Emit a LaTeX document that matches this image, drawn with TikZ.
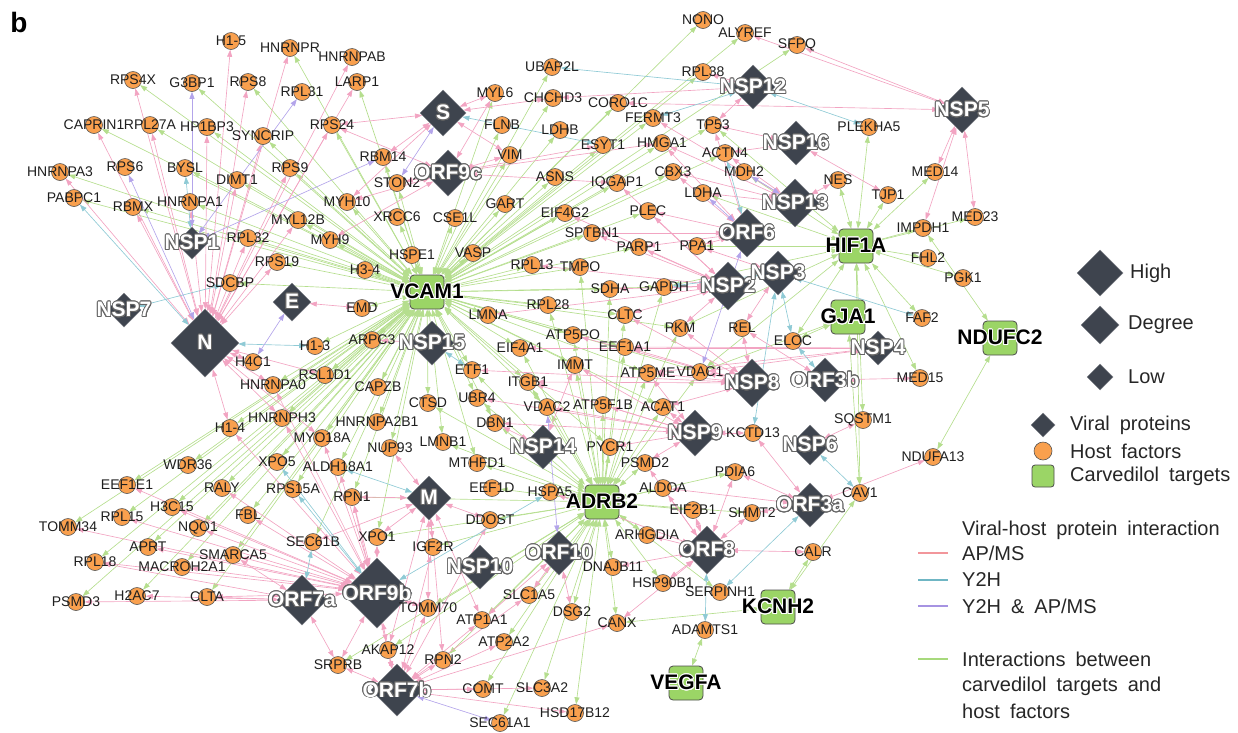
\documentclass[tikz,border=0pt]{standalone}
\usepackage{fontspec}
\setmainfont{Liberation Sans}
\newfontfamily\legfam[WordSpace=1.8]{Liberation Sans}
\usepackage{contour}
\contourlength{0.9pt}
\contournumber{20}
\usetikzlibrary{shapes.geometric,arrows.meta}
\pgfdeclarelayer{bg}\pgfdeclarelayer{fg}
\pgfsetlayers{bg,main,fg}
\definecolor{hostorange}{HTML}{F9A04E}
\definecolor{viral}{HTML}{3E444E}
\definecolor{tgt}{HTML}{9BD566}
\definecolor{apms}{HTML}{F2A4C2}
\definecolor{yth}{HTML}{8FCAD5}
\definecolor{both}{HTML}{B3A4EA}
\definecolor{gline}{HTML}{B5DE8E}
\definecolor{lapms}{HTML}{F2969B}
\definecolor{lyth}{HTML}{6FB6C4}
\definecolor{lboth}{HTML}{A693E2}
\definecolor{lgreen}{HTML}{A7D97C}
\newcommand\legendfont{\legfam\fontsize{20}{22}\selectfont}
\tikzset{
 hostc/.style={circle,fill=hostorange,draw=gray!65!black,line width=0.6pt,minimum size=17pt,inner sep=0pt},
 hostl/.style={font=\fontsize{14}{14}\selectfont,inner sep=0pt,text=black!88},
 vir/.style={diamond,fill=viral,draw=viral!70!white,line width=0.5pt,inner sep=0pt,aspect=1},
 virl/.style={font=\fontsize{21}{21}\selectfont\bfseries,text=white,inner sep=0pt},
 tg/.style={rectangle,rounded corners=4pt,fill=tgt,draw=gray!60!black,line width=0.8pt,minimum size=34pt,inner sep=0pt},
 tgl/.style={font=\fontsize{21}{21}\selectfont\bfseries,inner sep=0pt,text=black},
 ge/.style={draw=gline,line width=0.65pt,{Triangle[length=7pt,width=5pt]}-{Triangle[length=7pt,width=5pt]}},
 pe/.style={draw=apms,line width=0.65pt,{Triangle[length=7pt,width=5pt]}-{Triangle[length=7pt,width=5pt]}},
 te/.style={draw=yth,line width=0.65pt,{Triangle[length=7pt,width=5pt]}-{Triangle[length=7pt,width=5pt]}},
 be/.style={draw=both,line width=0.65pt,{Triangle[length=7pt,width=5pt]}-{Triangle[length=7pt,width=5pt]}},
 legtxt/.style={font=\legendfont,anchor=west,inner sep=0pt,text=black!85},
}
\newcommand\hostf[4]{\node[hostc] (#1) at (#2,#3) {};\begin{pgfonlayer}{fg}\node[hostl] (#1l) at (#2,#3) {#4};\end{pgfonlayer}}
\newcommand\virp[5]{\node[vir,minimum size=#4*2pt] (#1) at (#2,#3) {};\begin{pgfonlayer}{fg}\node[virl] (#1l) at (#2,#3) {\contour{gray!80!black}{#5}};\end{pgfonlayer}}
\newcommand\carv[4]{\node[tg] (#1) at (#2,#3) {};\begin{pgfonlayer}{fg}\node[tgl] (#1l) at (#2,#3) {\contour{white}{#4}};\end{pgfonlayer}}
\newcommand\drawedges[3]{\foreach \t in {#3} {\draw[#1] (#2) -- (\t);}}
\begin{document}
\begin{tikzpicture}[x=1pt,y=-1pt]
\useasboundingbox (0,0) rectangle (1238,732);
\node[font=\fontsize{28}{28}\selectfont\bfseries,inner sep=0pt] (blabel) at (19,22) {b};
% host factors
\hostf{H1x5}{231}{41}{H1-5}
\hostf{HNRNPR}{290}{48}{HNRNPR}
\hostf{HNRNPAB}{352}{57}{HNRNPAB}
\hostf{RPS4X}{133}{80}{RPS4X}
\hostf{G3BP1}{192}{83}{G3BP1}
\hostf{RPS8}{248}{82}{RPS8}
\hostf{RPL31}{302}{92}{RPL31}
\hostf{LARP1}{357}{82}{LARP1}
\hostf{CAPRIN1}{94}{125}{CAPRIN1}
\hostf{RPL27A}{150}{125}{RPL27A}
\hostf{HP1BP3}{207}{127}{HP1BP3}
\hostf{SYNCRIP}{263}{136}{SYNCRIP}
\hostf{RPS24}{332}{125}{RPS24}
\hostf{HNRNPA3}{60}{172}{HNRNPA3}
\hostf{RPS6}{125}{167}{RPS6}
\hostf{BYSL}{185}{168}{BYSL}
\hostf{DIMT1}{237}{180}{DIMT1}
\hostf{RPS9}{290}{168}{RPS9}
\hostf{PABPC1}{74}{198}{PABPC1}
\hostf{RBMX}{133}{207}{RBMX}
\hostf{HNRNPA1}{190}{202}{HNRNPA1}
\hostf{MYL12B}{298}{220}{MYL12B}
\hostf{MYH10}{347}{202}{MYH10}
\hostf{MYH9}{330}{240}{MYH9}
\hostf{RPL32}{248}{238}{RPL32}
\hostf{RPS19}{277}{262}{RPS19}
\hostf{SDCBP}{230}{283}{SDCBP}
\hostf{RBM14}{383}{157}{RBM14}
\hostf{STON2}{397}{183}{STON2}
\hostf{XRCC6}{397}{217}{XRCC6}
\hostf{MYL6}{495}{93}{MYL6}
\hostf{UBAP2L}{552}{67}{UBAP2L}
\hostf{CHCHD3}{553}{98}{CHCHD3}
\hostf{CORO1C}{618}{103}{CORO1C}
\hostf{FLNB}{502}{125}{FLNB}
\hostf{LDHB}{560}{130}{LDHB}
\hostf{FERMT3}{653}{118}{FERMT3}
\hostf{VIM}{510}{155}{VIM}
\hostf{ESYT1}{603}{145}{ESYT1}
\hostf{HMGA1}{662}{143}{HMGA1}
\hostf{ASNS}{555}{177}{ASNS}
\hostf{IQGAP1}{617}{183}{IQGAP1}
\hostf{CBX3}{673}{172}{CBX3}
\hostf{GART}{505}{204}{GART}
\hostf{CSE1L}{455}{218}{CSE1L}
\hostf{EIF4G2}{565}{213}{EIF4G2}
\hostf{PLEC}{648}{211}{PLEC}
\hostf{SPTBN1}{592}{233}{SPTBN1}
\hostf{PARP1}{639}{247}{PARP1}
\hostf{PPA1}{697}{246}{PPA1}
\hostf{NONO}{703}{20}{NONO}
\hostf{ALYREF}{745}{33}{ALYREF}
\hostf{SFPQ}{797}{45}{SFPQ}
\hostf{RPL38}{703}{72}{RPL38}
\hostf{TP53}{713}{125}{TP53}
\hostf{PLEKHA5}{869}{127}{PLEKHA5}
\hostf{ACTN4}{725}{153}{ACTN4}
\hostf{MDH2}{744}{172}{MDH2}
\hostf{LDHA}{703}{193}{LDHA}
\hostf{NES}{838}{180}{NES}
\hostf{MED14}{935}{172}{MED14}
\hostf{TJP1}{888}{195}{TJP1}
\hostf{IMPDH1}{923}{228}{IMPDH1}
\hostf{MED23}{975}{217}{MED23}
\hostf{FHL2}{928}{258}{FHL2}
\hostf{PGK1}{963}{278}{PGK1}
\hostf{FAF2}{922}{318}{FAF2}
\hostf{MED15}{920}{378}{MED15}
\hostf{SQSTM1}{863}{420}{SQSTM1}
\hostf{NDUFA13}{933}{457}{NDUFA13}
\hostf{CAV1}{860}{493}{CAV1}
\hostf{CALR}{813}{552}{CALR}
\hostf{HSPE1}{412}{255}{HSPE1}
\hostf{VASP}{473}{253}{VASP}
\hostf{RPL13}{532}{265}{RPL13}
\hostf{TMPO}{580}{267}{TMPO}
\hostf{H3x4}{365}{270}{H3-4}
\hostf{EMD}{362}{308}{EMD}
\hostf{SDHA}{610}{289}{SDHA}
\hostf{GAPDH}{664}{287}{GAPDH}
\hostf{LMNA}{488}{315}{LMNA}
\hostf{RPL28}{548}{305}{RPL28}
\hostf{CLTC}{625}{315}{CLTC}
\hostf{PKM}{680}{328}{PKM}
\hostf{REL}{742}{328}{REL}
\hostf{ELOC}{793}{341}{ELOC}
\hostf{ARPC3}{372}{340}{ARPC3}
\hostf{ATP5PO}{573}{335}{ATP5PO}
\hostf{EIF4A1}{520}{348}{EIF4A1}
\hostf{EEF1A1}{625}{347}{EEF1A1}
\hostf{IMMT}{575}{365}{IMMT}
\hostf{VDAC1}{700}{372}{VDAC1}
\hostf{ETF1}{472}{370}{ETF1}
\hostf{ITGB1}{528}{382}{ITGB1}
\hostf{ATP5ME}{648}{373}{ATP5ME}
\hostf{CAPZB}{378}{387}{CAPZB}
\hostf{CTSD}{428}{403}{CTSD}
\hostf{UBR4}{477}{398}{UBR4}
\hostf{VDAC2}{547}{407}{VDAC2}
\hostf{ATP5F1B}{603}{405}{ATP5F1B}
\hostf{ACAT1}{663}{407}{ACAT1}
\hostf{KCTD13}{753}{433}{KCTD13}
\hostf{HNRNPA2B1}{377}{422}{HNRNPA2B1}
\hostf{DBN1}{495}{423}{DBN1}
\hostf{LMNB1}{443}{442}{LMNB1}
\hostf{NUP93}{390}{448}{NUP93}
\hostf{PYCR1}{610}{447}{PYCR1}
\hostf{PSMD2}{645}{463}{PSMD2}
\hostf{MTHFD1}{477}{463}{MTHFD1}
\hostf{ALDH18A1}{338}{467}{ALDH18A1}
\hostf{PDIA6}{735}{472}{PDIA6}
\hostf{H1x3}{315}{346}{H1-3}
\hostf{H4C1}{253}{362}{H4C1}
\hostf{HNRNPA0}{273}{385}{HNRNPA0}
\hostf{RSL1D1}{325}{375}{RSL1D1}
\hostf{HNRNPH3}{282}{418}{HNRNPH3}
\hostf{MYO18A}{322}{438}{MYO18A}
\hostf{H1x4}{230}{428}{H1-4}
\hostf{WDR36}{188}{465}{WDR36}
\hostf{XPO5}{277}{462}{XPO5}
\hostf{EEF1E1}{127}{485}{EEF1E1}
\hostf{RALY}{222}{488}{RALY}
\hostf{RPS15A}{293}{489}{RPS15A}
\hostf{H3C15}{172}{507}{H3C15}
\hostf{FBL}{248}{515}{FBL}
\hostf{RPL15}{122}{517}{RPL15}
\hostf{TOMM34}{68}{527}{TOMM34}
\hostf{NQO1}{198}{528}{NQO1}
\hostf{SEC61B}{313}{542}{SEC61B}
\hostf{APRT}{148}{547}{APRT}
\hostf{SMARCA5}{233}{555}{SMARCA5}
\hostf{RPL18}{95}{562}{RPL18}
\hostf{MACROH2A1}{182}{567}{MACROH2A1}
\hostf{PSMD3}{76}{602}{PSMD3}
\hostf{H2AC7}{137}{596}{H2AC7}
\hostf{CLTA}{207}{597}{CLTA}
\hostf{SRPRB}{338}{665}{SRPRB}
\hostf{RPN1}{352}{497}{RPN1}
\hostf{EEF1D}{492}{488}{EEF1D}
\hostf{HSPA5}{550}{492}{HSPA5}
\hostf{ALDOA}{663}{488}{ALDOA}
\hostf{DDOST}{490}{520}{DDOST}
\hostf{XPO1}{377}{537}{XPO1}
\hostf{IGF2R}{433}{547}{IGF2R}
\hostf{ARHGDIA}{647}{535}{ARHGDIA}
\hostf{DNAJB11}{613}{567}{DNAJB11}
\hostf{HSP90B1}{663}{583}{HSP90B1}
\hostf{SLC1A5}{529}{595}{SLC1A5}
\hostf{TOMM70}{428}{608}{TOMM70}
\hostf{DSG2}{572}{612}{DSG2}
\hostf{ATP1A1}{482}{620}{ATP1A1}
\hostf{CANX}{617}{623}{CANX}
\hostf{ATP2A2}{504}{642}{ATP2A2}
\hostf{AKAP12}{388}{650}{AKAP12}
\hostf{RPN2}{443}{660}{RPN2}
\hostf{COMT}{483}{689}{COMT}
\hostf{SLC3A2}{542}{688}{SLC3A2}
\hostf{HSD17B12}{575}{713}{HSD17B12}
\hostf{SEC61A1}{500}{723}{SEC61A1}
\hostf{EIF2B1}{693}{510}{EIF2B1}
\hostf{SHMT2}{752}{513}{SHMT2}
\hostf{SERPINH1}{720}{592}{SERPINH1}
\hostf{ADAMTS1}{705}{630}{ADAMTS1}
% viral proteins
\virp{N}{205}{343}{34}{N}
\virp{NSP1}{192}{243}{16}{NSP1}
\virp{NSP7}{124}{310}{17}{NSP7}
\virp{E}{292}{302}{19}{E}
\virp{S}{443}{113}{23}{S}
\virp{ORF9c}{448}{173}{23}{ORF9c}
\virp{NSP12}{753}{87}{22}{NSP12}
\virp{NSP5}{962}{110}{23}{NSP5}
\virp{NSP16}{796}{143}{22}{NSP16}
\virp{NSP13}{795}{203}{24}{NSP13}
\virp{ORF6}{747}{233}{24}{ORF6}
\virp{NSP2}{728}{286}{24}{NSP2}
\virp{NSP3}{778}{273}{22}{NSP3}
\virp{NSP4}{878}{348}{17}{NSP4}
\virp{NSP8}{752}{383}{24}{NSP8}
\virp{ORF3b}{825}{380}{22}{ORF3b}
\virp{NSP9}{695}{433}{23}{NSP9}
\virp{NSP6}{810}{445}{20}{NSP6}
\virp{ORF3a}{810}{505}{22}{ORF3a}
\virp{ORF8}{707}{550}{24}{ORF8}
\virp{NSP15}{432}{343}{22}{NSP15}
\virp{NSP14}{543}{447}{22}{NSP14}
\virp{M}{429}{498}{22}{M}
\virp{ORF10}{559}{553}{22}{ORF10}
\virp{NSP10}{480}{567}{22}{NSP10}
\virp{ORF9b}{377}{593}{35}{ORF9b}
\virp{ORF7a}{302}{600}{25}{ORF7a}
\virp{ORF7b}{397}{690}{26}{ORF7b}
% carvedilol targets
\carv{VCAM1}{427}{292}{VCAM1}
\carv{HIF1A}{856}{246}{HIF1A}
\carv{GJA1}{848}{317}{GJA1}
\carv{NDUFC2}{1000}{338}{NDUFC2}
\carv{ADRB2}{602}{502}{ADRB2}
\carv{KCNH2}{778}{607}{KCNH2}
\carv{VEGFA}{686}{683}{VEGFA}
% edges
\begin{pgfonlayer}{bg}
\drawedges{ge}{VCAM1}{HNRNPR,RPS4X,G3BP1,RPS8,LARP1,CAPRIN1,RPL27A,HP1BP3,SYNCRIP,RPS24,HNRNPA3,BYSL,DIMT1,RPS9,PABPC1,RBMX,HNRNPA1,MYL12B,MYH10,MYH9,RPL32,RPS19,SDCBP,RBM14,STON2,XRCC6,MYL6,UBAP2L,CHCHD3,CORO1C,FLNB,LDHB,FERMT3,VIM,ESYT1,HMGA1,ASNS,IQGAP1,CBX3,GART,CSE1L,EIF4G2,PLEC,SPTBN1,PARP1,NONO,ALYREF,SFPQ,RPL38,TP53,ACTN4,HSPE1,VASP,RPL13,TMPO,H3x4,EMD,SDHA,GAPDH,LMNA,RPL28,CLTC,PKM,ARPC3,ATP5PO,EIF4A1,EEF1A1,IMMT,VDAC1,ETF1,ITGB1,ATP5ME,CAPZB,CTSD,UBR4,VDAC2,DBN1,LMNB1,NUP93,HNRNPA2B1,MTHFD1,ALDH18A1,H1x3,RSL1D1,HNRNPA0,HNRNPH3,MYO18A,H1x4,WDR36,XPO5,EEF1E1,RALY,RPS15A,H3C15,FBL,RPL15,TOMM34,NQO1,SEC61B,APRT,SMARCA5,RPL18,MACROH2A1,PSMD3,CLTA,H2AC7,RPN1,XPO1,ACAT1,PYCR1}
\drawedges{ge}{ADRB2}{PSMD2,PYCR1,ATP5F1B,VDAC2,ITGB1,ACAT1,ALDOA,EIF2B1,ARHGDIA,HSP90B1,DNAJB11,CANX,DSG2,SLC1A5,ATP1A1,ATP2A2,SLC3A2,HSD17B12,SEC61A1,COMT,RPN2,AKAP12,TOMM70,IGF2R,DDOST,EEF1D,HSPA5,RPN1,XPO1,MTHFD1,DBN1,IMMT,EEF1A1,ATP5ME,CLTC,PKM,VDAC1,SERPINH1,PDIA6,ATP5PO,EIF4A1,LMNB1,SRPRB,CTSD,UBR4,ETF1,SDHA,GAPDH,TMPO,RPL28,SHMT2}
\drawedges{ge}{HIF1A}{NES,PLEKHA5,TJP1,MED14,IMPDH1,FHL2,PGK1,FAF2,MED15,SQSTM1,ELOC,LDHA,GAPDH,PKM,PPA1,TP53,CAV1,MED23,VDAC1,MDH2}
\drawedges{ge}{GJA1}{VDAC1,CAV1,ELOC}
\drawedges{ge}{KCNH2}{CALR,CAV1,CANX}
\drawedges{ge}{VEGFA}{ADAMTS1}
\drawedges{ge}{NDUFC2}{NDUFA13,IMPDH1}
% AP/MS
\drawedges{pe}{N}{H1x5,HNRNPR,HNRNPAB,RPS4X,RPS8,LARP1,CAPRIN1,RPL27A,HP1BP3,SYNCRIP,RPS24,HNRNPA3,DIMT1,RPS9,RBMX,RPL32,HNRNPA1,MYL12B,RPS19,H4C1,H1x4,HNRNPA0,HNRNPH3,RSL1D1,MYO18A}
\drawedges{pe}{E}{EMD}
\drawedges{pe}{S}{MYL6,RBM14,MYH10,RPS24,CHCHD3,VIM}
\drawedges{pe}{ORF9c}{STON2,MYH10,MYH9,RPS24,VIM,ESYT1,IQGAP1,HMGA1,MYL6}
\drawedges{pe}{NSP12}{RPL38,CHCHD3,TP53}
\drawedges{pe}{NSP5}{ALYREF,SFPQ,MED14,MED23,IMPDH1,CORO1C}
\drawedges{pe}{NSP16}{TP53,TJP1,ACTN4}
\drawedges{pe}{NSP13}{ACTN4,LDHA,CBX3,HMGA1,NES,FERMT3}
\drawedges{pe}{ORF6}{PPA1,PLEC,PARP1,TP53,HMGA1,CBX3,SPTBN1}
\drawedges{pe}{NSP2}{PARP1,SPTBN1,EIF4G2,PLEC,GAPDH,PKM,SDHA,CLTC,IQGAP1,RPL13,LMNA}
\drawedges{pe}{NSP3}{REL,PPA1}
\drawedges{pe}{NSP4}{VDAC1,ATP5ME,EEF1A1,EIF4A1}
\drawedges{pe}{NSP8}{ATP5ME,VDAC1,ACAT1,PKM,EEF1A1,CLTC,ATP5PO,REL,ETF1,ITGB1}
\drawedges{pe}{ORF3b}{MED15,REL}
\drawedges{pe}{NSP9}{ATP5F1B,VDAC2,ACAT1,PYCR1,PSMD2,KCTD13,ATP5ME,IMMT,ITGB1,DBN1,UBR4}
\drawedges{pe}{NSP6}{SQSTM1}
\drawedges{pe}{ORF3a}{NDUFA13,PDIA6,ALDOA,KCTD13,SHMT2}
\drawedges{pe}{ORF8}{HSP90B1,CALR,PDIA6,SHMT2,EIF2B1,ALDOA,ARHGDIA,DNAJB11,CANX,HSPA5,PSMD2}
\drawedges{pe}{ORF10}{DSG2,SLC1A5,ATP1A1}
\drawedges{pe}{NSP14}{DBN1,IMMT}
\drawedges{pe}{NSP15}{ARPC3}
\drawedges{pe}{M}{RPN1,XPO1,IGF2R,DDOST,TOMM70,ATP1A1,RPN2,AKAP12,SEC61B,NUP93}
\drawedges{pe}{ORF9b}{EEF1E1,RPL15,TOMM34,APRT,RPL18,H3C15,NQO1,SMARCA5,FBL,MACROH2A1,CLTA,TOMM70,AKAP12,SRPRB,RPN1,XPO1,MYO18A,HNRNPH3,HNRNPA0,ALDH18A1,H1x4,RALY}
\drawedges{pe}{ORF7a}{CLTA,H2AC7,PSMD3,SRPRB,SMARCA5,RPL18}
\drawedges{pe}{ORF7b}{SRPRB,AKAP12,RPN2,COMT,SLC3A2,HSD17B12,CANX,ATP1A1,ATP2A2,SLC1A5,TOMM70,IGF2R,DDOST,RPN1}
% Y2H
\drawedges{te}{N}{PABPC1,H1x3}
\drawedges{te}{NSP1}{BYSL}
\drawedges{te}{NSP7}{SDCBP}
\drawedges{te}{S}{ESYT1}
\drawedges{te}{NSP12}{UBAP2L,PLEKHA5,FERMT3}
\drawedges{te}{ORF6}{ACTN4}
\drawedges{te}{NSP3}{FAF2,ELOC,GAPDH,KCTD13}
\drawedges{te}{ORF3b}{ELOC}
\drawedges{te}{NSP6}{CAV1}
\drawedges{te}{ORF3a}{SERPINH1}
\drawedges{te}{ORF8}{ADAMTS1}
\drawedges{te}{NSP15}{ETF1}
\drawedges{te}{M}{ALDH18A1}
\drawedges{te}{ORF9b}{RPS15A,XPO5,HSPA5}
\drawedges{te}{ORF7a}{SEC61B}
% Y2H & AP/MS
\drawedges{be}{NSP1}{G3BP1,RPL31,RBM14}
\drawedges{be}{N}{RPS6}
\drawedges{be}{E}{H4C1}
\drawedges{be}{S}{STON2}
\drawedges{be}{NSP13}{MDH2}
\drawedges{be}{ORF6}{LDHA,VDAC1}
\drawedges{be}{ORF10}{VDAC2}
\drawedges{be}{ORF7b}{SEC61A1}
\end{pgfonlayer}
% legend
\node[vir,minimum size=46pt] (lgHigh) at (1100,273) {};
\node[legtxt] (lgHight) at (1130,273) {High};
\node[vir,minimum size=38pt] (lgDeg) at (1100,325) {};
\node[legtxt] (lgDegt) at (1128,325) {Degree};
\node[vir,minimum size=26pt] (lgLow) at (1100,377) {};
\node[legtxt] (lgLowt) at (1128,377) {Low};
\node[vir,minimum size=24pt] (lgVir) at (1043,425) {};
\node[legtxt] (lgVirt) at (1070,425) {Viral proteins};
\node[hostc,minimum size=18pt] (lgHost) at (1043,451) {};
\node[legtxt] (lgHostt) at (1070,451) {Host factors};
\node[tg,minimum size=22pt,rounded corners=3pt] (lgTgt) at (1043,476) {};
\node[legtxt] (lgTgtt) at (1070,476) {Carvedilol targets};
\node[legtxt] (lgVH) at (962,530) {Viral-host protein interaction};
\coordinate (la1) at (918,553); \coordinate (la2) at (948,553);
\draw[lapms,line width=2.2pt] (la1) -- (la2);
\node[legtxt] (lgAP) at (962,553) {AP/MS};
\coordinate (lb1) at (918,580); \coordinate (lb2) at (948,580);
\draw[lyth,line width=2.2pt] (lb1) -- (lb2);
\node[legtxt] (lgY2H) at (962,580) {Y2H};
\coordinate (lc1) at (918,606); \coordinate (lc2) at (948,606);
\draw[lboth,line width=2.2pt] (lc1) -- (lc2);
\node[legtxt] (lgBoth) at (962,606) {Y2H \& AP/MS};
\coordinate (ld1) at (918,659); \coordinate (ld2) at (948,659);
\draw[lgreen,line width=2.2pt] (ld1) -- (ld2);
\node[legtxt] (lgInt1) at (962,659) {Interactions between};
\node[legtxt] (lgInt2) at (962,686) {carvedilol targets and};
\node[legtxt] (lgInt3) at (962,711) {host factors};
\end{tikzpicture}
\end{document}
